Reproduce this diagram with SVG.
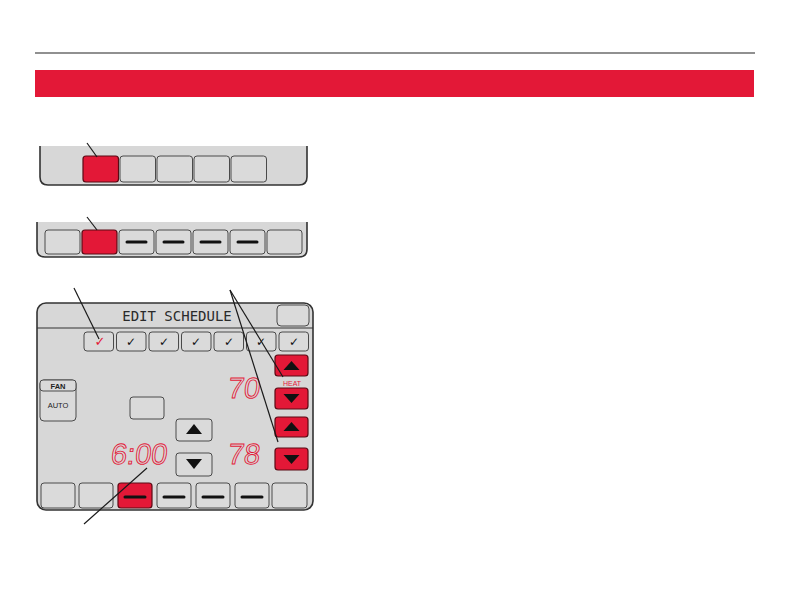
<svg xmlns="http://www.w3.org/2000/svg" width="792" height="612" viewBox="0 0 792 612">
<defs>
<style>
.panel{fill:#d7d7d7;stroke:none}
.edge{fill:none;stroke:#333;stroke-width:1.6}
.btn{fill:#dadada;stroke:#4a4a4a;stroke-width:1}
.rbtn{fill:#e31837;stroke:#5a0a14;stroke-width:1.2}
.dash{stroke:#111;stroke-width:3;stroke-linecap:round}
.tri{fill:#111}
.lead{stroke:#1a1a1a;stroke-width:1.2;fill:none}
.lcd{font-family:"Liberation Sans","DejaVu Sans",sans-serif;font-size:29px;fill:none;stroke:#e31837;stroke-width:0.9}
.chk{font-family:"DejaVu Sans",sans-serif;font-size:12px;text-anchor:middle;fill:#111}
.chkr{font-family:"DejaVu Sans",sans-serif;font-size:13px;text-anchor:middle;fill:#e31837;font-weight:bold}
.small{font-family:"Liberation Sans",Arial,sans-serif;font-size:7.5px;text-anchor:middle;fill:#222}
</style>
</defs>
<rect width="792" height="612" fill="#fff"/>
<line x1="35" y1="53" x2="755" y2="53" stroke="#222" stroke-width="1.2"/>
<rect x="35" y="70" width="719" height="27" fill="#e31837"/>

<g id="panel1">
<path class="panel" d="M40 146 H307 V177 Q307 185 299 185 H48 Q40 185 40 177 Z"/>
<path class="edge" d="M40 146 V177 Q40 185 48 185 H299 Q307 185 307 177 V146"/>
<rect class="rbtn" x="83" y="156" width="35.5" height="26" rx="3"/>
<rect class="btn" x="120" y="156" width="35.5" height="26" rx="3"/>
<rect class="btn" x="157" y="156" width="35.5" height="26" rx="3"/>
<rect class="btn" x="194" y="156" width="35.5" height="26" rx="3"/>
<rect class="btn" x="231" y="156" width="35.5" height="26" rx="3"/>
</g>

<g id="panel2">
<path class="panel" d="M37 222 H307 V249 Q307 257 299 257 H45 Q37 257 37 249 Z"/>
<path class="edge" d="M37 222 V249 Q37 257 45 257 H299 Q307 257 307 249 V222"/>
<rect class="btn" x="45" y="230" width="35" height="24" rx="3"/>
<rect class="rbtn" x="82" y="230" width="35" height="24" rx="3"/>
<rect class="btn" x="119" y="230" width="35" height="24" rx="3"/>
<rect class="btn" x="156" y="230" width="35" height="24" rx="3"/>
<rect class="btn" x="193" y="230" width="35" height="24" rx="3"/>
<rect class="btn" x="230" y="230" width="35" height="24" rx="3"/>
<rect class="btn" x="267" y="230" width="35" height="24" rx="3"/>
<line class="dash" x1="127" y1="242" x2="146" y2="242"/>
<line class="dash" x1="164" y1="242" x2="183" y2="242"/>
<line class="dash" x1="201" y1="242" x2="220" y2="242"/>
<line class="dash" x1="238" y1="242" x2="257" y2="242"/>
</g>

<g id="panel3">
<rect x="37" y="303" width="276" height="207" rx="9" fill="#d7d7d7" stroke="#333" stroke-width="1.6"/>
<line x1="37" y1="328" x2="313" y2="328" stroke="#333" stroke-width="1.2"/>
<text x="177" y="321" text-anchor="middle" font-family="DejaVu Sans Mono,monospace" font-size="14" fill="#2a2a2a">EDIT SCHEDULE</text>
<rect class="btn" x="277" y="305" width="32" height="21" rx="4"/>
<g id="days">
<rect class="btn" x="84" y="332" width="29.5" height="19" rx="3"/>
<rect class="btn" x="116.5" y="332" width="29.5" height="19" rx="3"/>
<rect class="btn" x="149" y="332" width="29.5" height="19" rx="3"/>
<rect class="btn" x="181.5" y="332" width="29.5" height="19" rx="3"/>
<rect class="btn" x="214" y="332" width="29.5" height="19" rx="3"/>
<rect class="btn" x="246.5" y="332" width="29.5" height="19" rx="3"/>
<rect class="btn" x="279" y="332" width="29.5" height="19" rx="3"/>
<text class="chkr" x="100" y="346">✓</text>
<text class="chk" x="131" y="346">✓</text>
<text class="chk" x="164" y="346">✓</text>
<text class="chk" x="196" y="346">✓</text>
<text class="chk" x="229" y="346">✓</text>
<text class="chk" x="261" y="346">✓</text>
<text class="chk" x="294" y="346">✓</text>
</g>
<g id="fan">
<rect class="btn" x="40" y="380" width="36" height="41" rx="4"/>
<rect class="btn" x="40" y="380" width="36" height="11" rx="3"/>
<text class="small" x="58" y="388.5" font-weight="bold">FAN</text>
<text class="small" x="58" y="408">AUTO</text>
</g>
<rect class="btn" x="130" y="397" width="34" height="22" rx="3"/>
<g id="timeArrows">
<rect class="btn" x="176" y="419" width="36" height="22" rx="3"/>
<polygon class="tri" points="194,424 186,434 202,434"/>
<rect class="btn" x="176" y="453" width="36" height="23" rx="3"/>
<polygon class="tri" points="186,459 202,459 194,469"/>
</g>
<text class="lcd" transform="translate(227,398) skewX(-7)" x="0" y="0">70</text>
<text class="lcd" transform="translate(227,464) skewX(-7)" x="0" y="0">78</text>
<text class="lcd" transform="translate(110,464) skewX(-7)" x="0" y="0">6:00</text>
<g id="tempButtons">
<rect class="rbtn" x="275" y="355" width="33" height="21" rx="3"/>
<polygon class="tri" points="291.5,361 283.5,370 299.5,370"/>
<text x="292" y="386" text-anchor="middle" font-family="Liberation Sans,Arial,sans-serif" font-size="7" fill="#e31837">HEAT</text>
<rect class="rbtn" x="275" y="388" width="33" height="21" rx="3"/>
<polygon class="tri" points="283.5,394 299.5,394 291.5,403"/>
<rect class="rbtn" x="275" y="417" width="33" height="20" rx="3"/>
<polygon class="tri" points="291.5,422 283.5,431 299.5,431"/>
<rect class="rbtn" x="275" y="448" width="33" height="22" rx="3"/>
<polygon class="tri" points="283.5,455 299.5,455 291.5,464"/>
</g>
<g id="periods">
<rect class="btn" x="41" y="483" width="34" height="25" rx="3"/>
<rect class="btn" x="79" y="483" width="34" height="25" rx="3"/>
<rect class="rbtn" x="118" y="483" width="34" height="25" rx="3"/>
<rect class="btn" x="157" y="483" width="34" height="25" rx="3"/>
<rect class="btn" x="196" y="483" width="34" height="25" rx="3"/>
<rect class="btn" x="235" y="483" width="34" height="25" rx="3"/>
<rect class="btn" x="272" y="483" width="35" height="25" rx="3"/>
<line class="dash" x1="125" y1="497" x2="145" y2="497"/>
<line class="dash" x1="164" y1="497" x2="184" y2="497"/>
<line class="dash" x1="203" y1="497" x2="223" y2="497"/>
<line class="dash" x1="242" y1="497" x2="262" y2="497"/>
</g>
</g>

<g id="connectors">
<line class="lead" x1="87" y1="143" x2="97" y2="157"/>
<line class="lead" x1="87" y1="217" x2="97" y2="230"/>
<line class="lead" x1="74" y1="288" x2="99" y2="339"/>
<line class="lead" x1="230" y1="290" x2="283" y2="377"/>
<line class="lead" x1="230" y1="290" x2="278" y2="442"/>
<line class="lead" x1="147" y1="468" x2="84" y2="524"/>
</g>
</svg>
